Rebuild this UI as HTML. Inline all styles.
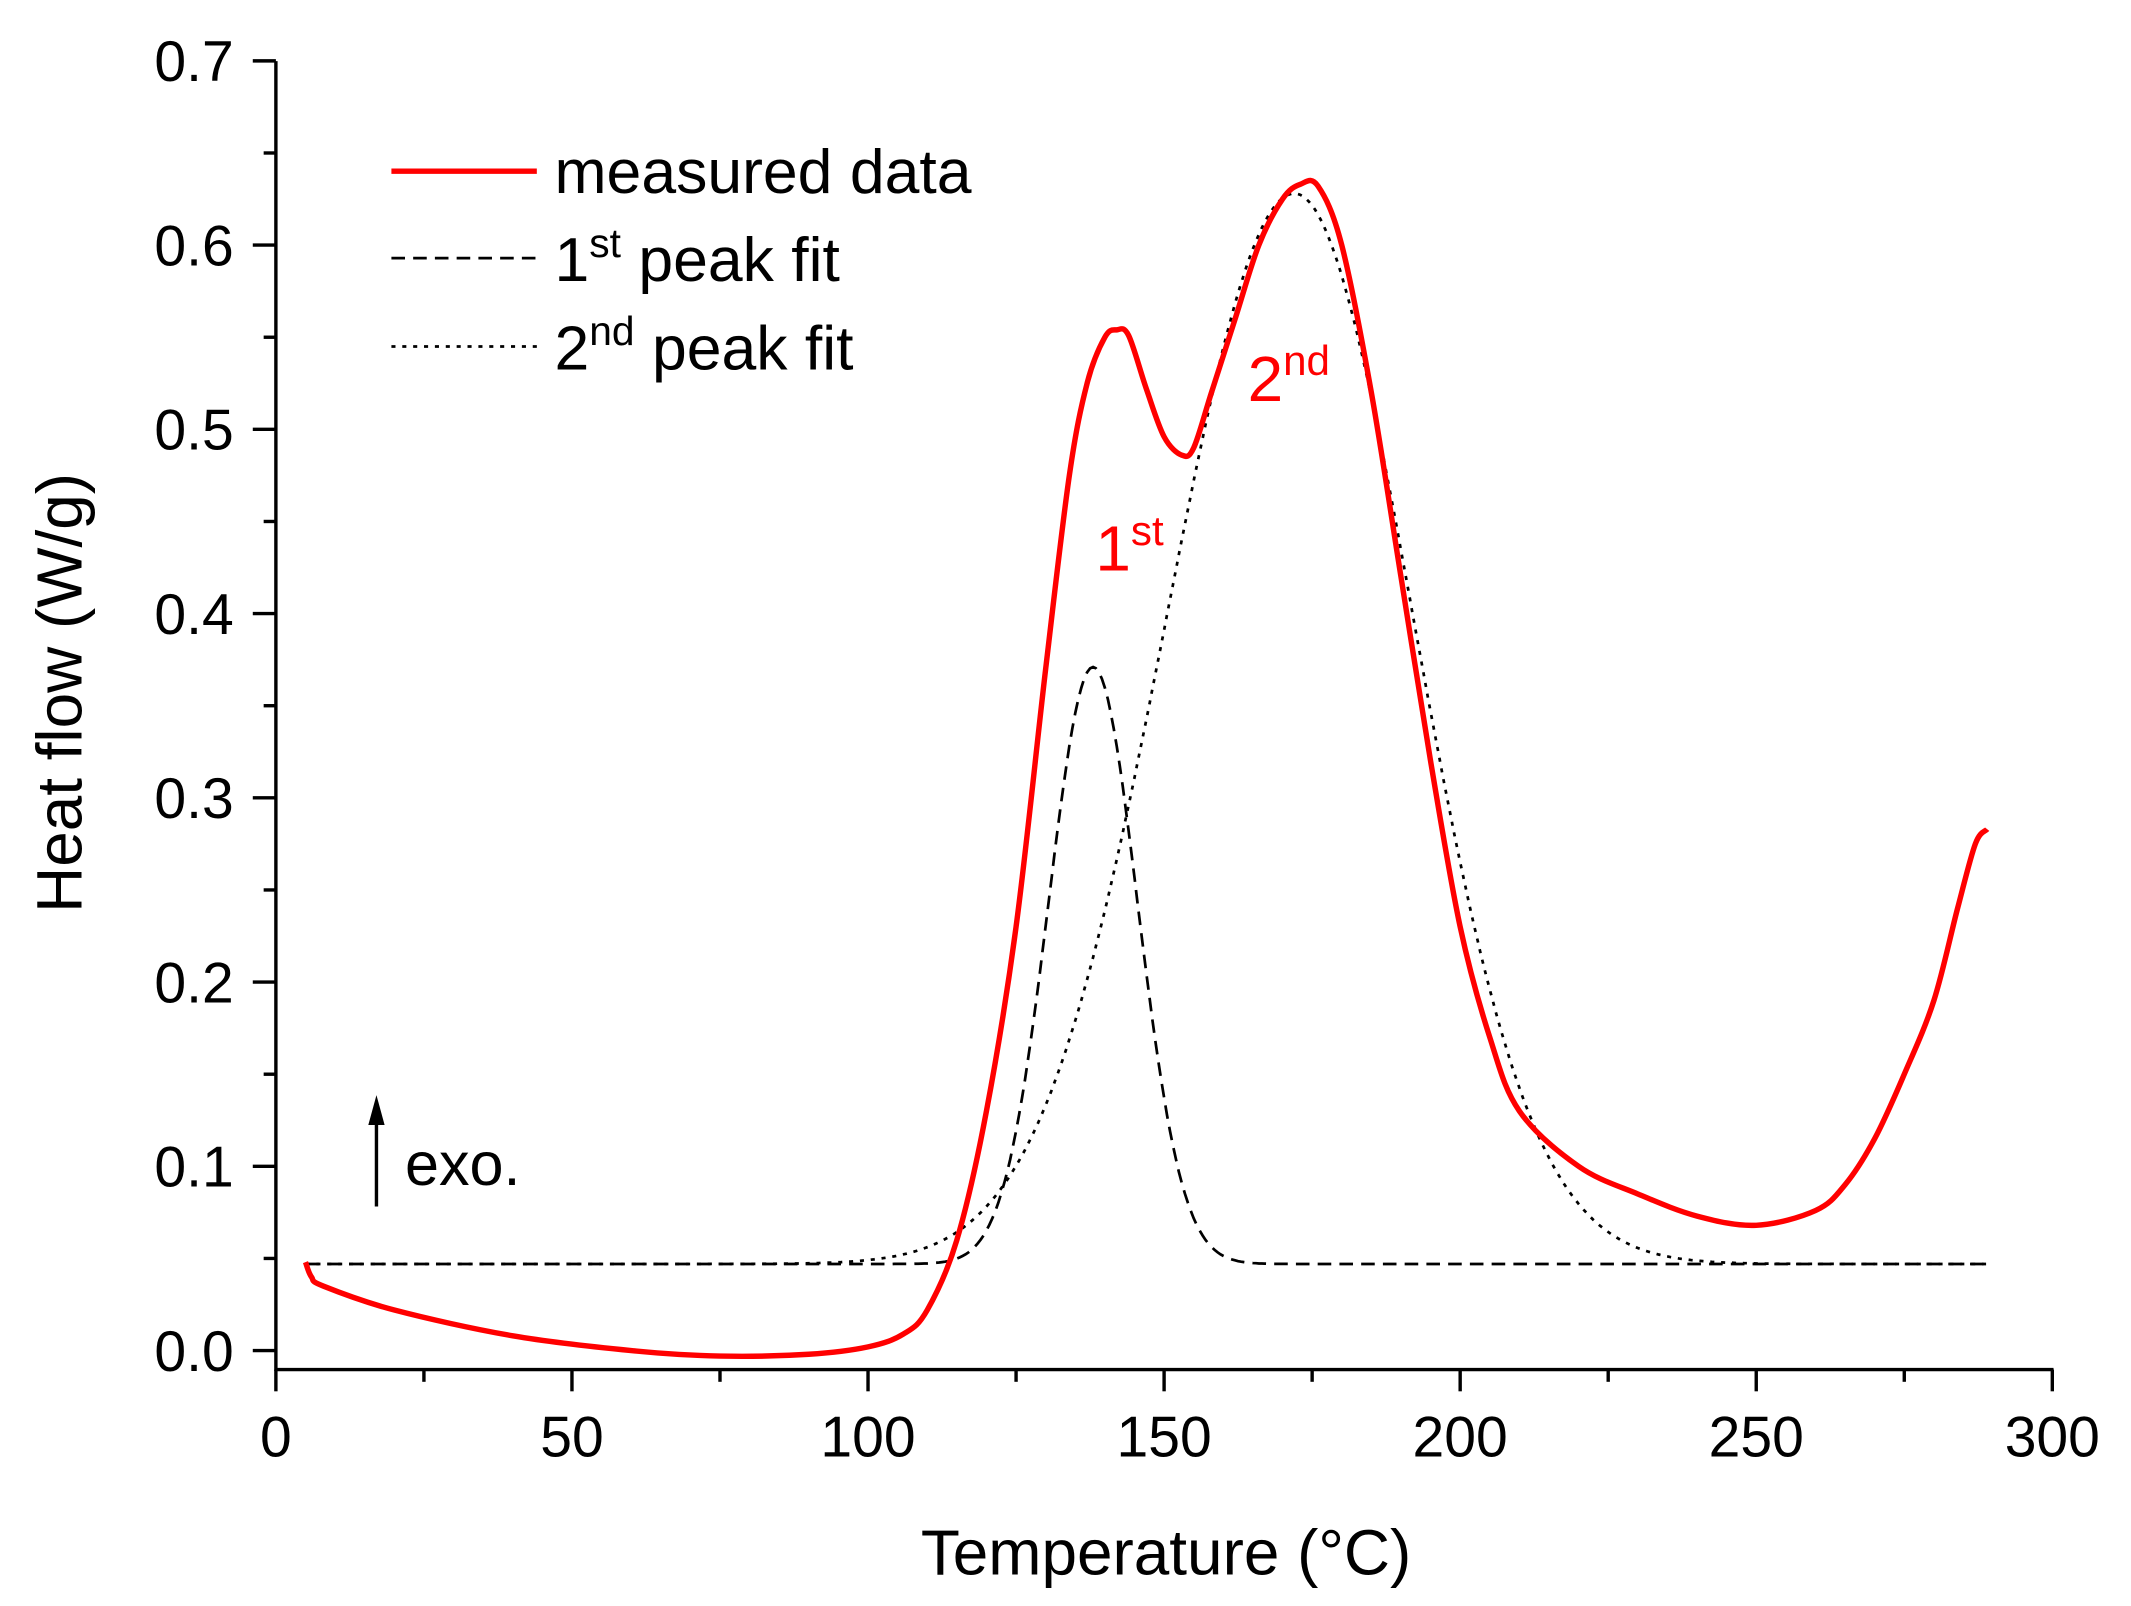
<!DOCTYPE html>
<html><head><meta charset="utf-8"><style>
html,body{margin:0;padding:0;background:#fff}
svg{display:block}
text{font-family:"Liberation Sans",Arial,sans-serif;fill:#000}
</style></head><body>
<svg id="s" width="2131" height="1606" viewBox="0 0 1568 1182" preserveAspectRatio="none" xmlns="http://www.w3.org/2000/svg">
<g id="axes" stroke="#000" stroke-width="2.5" fill="none">
<line x1="203" y1="45" x2="203" y2="1009"/>
<line x1="202" y1="1008" x2="1511" y2="1008"/>
</g>
<g id="ticks" stroke="#000" stroke-width="2.5"></g>
<g id="labels" font-size="42"></g>
<text x="858" y="1159" font-size="47" text-anchor="middle">Temperature (°C)</text>
<text transform="translate(60,510) rotate(-90)" font-size="47" text-anchor="middle">Heat flow (W/g)</text>
<path id="d1" fill="none" stroke="#000" stroke-width="2" stroke-dasharray="10,6"/>
<path id="d2" fill="none" stroke="#000" stroke-width="2" stroke-dasharray="3,5"/>
<path id="m" fill="none" stroke="#f00" stroke-width="4" stroke-linejoin="round"/>
<line x1="288" y1="126" x2="395" y2="126" stroke="#f00" stroke-width="4"/>
<line x1="288" y1="190" x2="395" y2="190" stroke="#000" stroke-width="2" stroke-dasharray="10,6"/>
<line x1="288" y1="255" x2="395" y2="255" stroke="#000" stroke-width="2" stroke-dasharray="3,5"/>
<text x="408" y="142" font-size="46">measured data</text>
<text x="408" y="207" font-size="46">1<tspan font-size="30" dy="-18">st</tspan><tspan dy="18"> peak fit</tspan></text>
<text x="408" y="272" font-size="46">2<tspan font-size="30" dy="-18">nd</tspan><tspan dy="18"> peak fit</tspan></text>
<text x="806" y="420" font-size="47" style="fill:#f00">1<tspan font-size="31" dy="-19">st</tspan></text>
<text x="918" y="295" font-size="47" style="fill:#f00">2<tspan font-size="31" dy="-19">nd</tspan></text>
<line x1="277" y1="888" x2="277" y2="822" stroke="#000" stroke-width="2.5"/>
<polygon points="277,806 271,828 283,828" fill="#000"/>
<text x="298" y="872" font-size="45">exo.</text>
</svg>
<script>
var X=t=>203+t*4.357, Y=v=>994-v*1356;
var tk=document.getElementById('ticks'),lb=document.getElementById('labels'),ns="http://www.w3.org/2000/svg";
function el(p,n,a,t){var e=document.createElementNS(ns,n);for(var k in a)e.setAttribute(k,a[k]);if(t)e.textContent=t;p.appendChild(e);}
for(var i=0;i<=12;i++){var x=X(i*25);el(tk,'line',{x1:x,y1:1008,x2:x,y2:i%2?1017:1024});}
for(i=0;i<=6;i++)el(lb,'text',{x:X(i*50),y:1072,'text-anchor':'middle'},String(i*50));
for(i=0;i<=14;i++){var y=Y(i*0.05);el(tk,'line',{x1:203,y1:y,x2:i%2?194:186,y2:y});}
for(i=0;i<=7;i++)el(lb,'text',{x:172,y:Y(i*0.1)+15,'text-anchor':'end'},(i/10).toFixed(1));
function path(f){var s='';for(var t=5;t<=289;t+=0.5)s+=(s?'L':'M')+X(t).toFixed(1)+','+Y(f(t)).toFixed(1);return s;}
document.getElementById('d1').setAttribute('d',path(t=>0.047+0.324*Math.exp(-Math.pow((t-138)/7.5,2)/2)));
document.getElementById('d2').setAttribute('d',path(t=>{var s=t<172?21.5:20;return 0.047+0.581*Math.exp(-Math.pow((t-172)/s,2)/2);}));
var P=[[5,0.048],[6,0.04],[8,0.035],[20,0.022],[40,0.008],[60,0.0],[75,-0.003],[90,-0.002],[100,0.002],[106,0.009],[110,0.022],[115,0.06],[120,0.13],[125,0.23],[130,0.37],[134,0.475],[137,0.525],[140,0.55],[142,0.554],[144,0.551],[147,0.522],[150,0.496],[153,0.486],[155,0.49],[158,0.52],[162,0.56],[166,0.6],[170,0.625],[173,0.633],[176,0.632],[180,0.6],[185,0.52],[190,0.42],[195,0.32],[200,0.23],[205,0.17],[210,0.13],[220,0.10],[230,0.085],[240,0.073],[250,0.068],[260,0.076],[265,0.09],[270,0.115],[275,0.15],[280,0.19],[284,0.24],[287,0.275],[289,0.283]].map(p=>[X(p[0]),Y(p[1])]);
var d='M'+P[0];
for(i=0;i<P.length-1;i++){var p0=P[i-1]||P[i],p1=P[i],p2=P[i+1],p3=P[i+2]||p2;
d+='C'+(p1[0]+(p2[0]-p0[0])/6)+','+(p1[1]+(p2[1]-p0[1])/6)+' '+(p2[0]-(p3[0]-p1[0])/6)+','+(p2[1]-(p3[1]-p1[1])/6)+' '+p2[0]+','+p2[1];}
document.getElementById('m').setAttribute('d',d);
</script>
</body></html>
